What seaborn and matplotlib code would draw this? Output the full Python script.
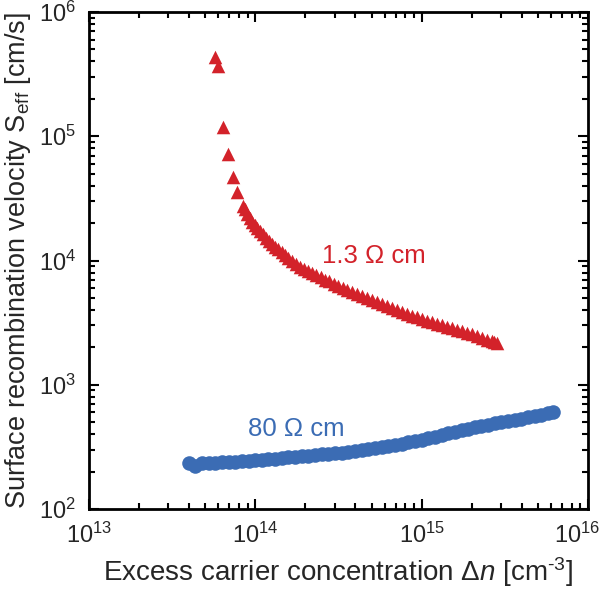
import matplotlib
matplotlib.use("Agg")
import matplotlib.pyplot as plt
import matplotlib.transforms as mtransforms
import seaborn as sns
import pandas as pd
from matplotlib.ticker import LogLocator

# 1.3 Ohm cm sample (red triangles)
red_dn = [5.70e13, 5.94e13, 6.37e13, 6.82e13, 7.31e13, 7.80e13, 8.40e13,
          8.67e13, 8.97e13, 9.29e13, 9.62e13, 9.96e13,
          1.03e14, 1.07e14, 1.11e14, 1.16e14, 1.21e14, 1.26e14, 1.31e14, 1.37e14,
          1.44e14, 1.51e14, 1.58e14, 1.66e14, 1.76e14, 1.86e14, 1.96e14, 2.07e14,
          2.19e14, 2.32e14, 2.47e14, 2.62e14, 2.79e14, 2.97e14, 3.16e14, 3.37e14,
          3.58e14, 3.81e14, 4.09e14, 4.38e14, 4.69e14, 5.03e14, 5.39e14, 5.78e14,
          6.20e14, 6.64e14, 7.11e14, 7.62e14, 8.17e14, 8.76e14, 9.39e14,
          1.006e15, 1.078e15, 1.155e15, 1.238e15, 1.327e15, 1.422e15, 1.523e15,
          1.633e15, 1.750e15, 1.876e15, 2.01e15, 2.155e15, 2.31e15, 2.474e15,
          2.65e15, 2.74e15, 2.84e15]
red_s = [4.32e5, 3.67e5, 1.19e5, 7.2e4, 4.7e4, 3.58e4, 2.76e4,
         2.60e4, 2.39e4, 2.20e4, 2.06e4, 1.93e4,
         1.83e4, 1.73e4, 1.62e4, 1.52e4, 1.44e4, 1.36e4, 1.29e4, 1.23e4,
         1.17e4, 1.11e4, 1.05e4, 9.9e3, 9.41e3, 8.95e3, 8.58e3, 8.23e3,
         7.93e3, 7.64e3, 7.33e3, 7.03e3, 6.78e3, 6.53e3, 6.26e3, 6.01e3,
         5.79e3, 5.58e3, 5.36e3, 5.15e3, 4.96e3, 4.78e3, 4.61e3, 4.44e3,
         4.29e3, 4.15e3, 4.00e3, 3.85e3, 3.73e3, 3.61e3, 3.49e3,
         3.38e3, 3.28e3, 3.18e3, 3.09e3, 3.00e3, 2.92e3, 2.84e3,
         2.76e3, 2.69e3, 2.61e3, 2.54e3, 2.46e3, 2.38e3, 2.30e3,
         2.23e3, 2.19e3, 2.16e3]

# 80 Ohm cm sample (blue circles)
blue_dn = [3.98e13, 4.37e13, 4.79e13, 5.25e13, 5.75e13, 6.31e13, 6.92e13, 7.59e13,
           8.32e13, 9.12e13,
           1.00e14, 1.10e14, 1.20e14, 1.32e14, 1.45e14, 1.58e14, 1.74e14, 1.91e14,
           2.09e14, 2.29e14, 2.51e14, 2.75e14, 3.02e14, 3.31e14, 3.63e14, 3.98e14,
           4.37e14, 4.79e14, 5.25e14, 5.75e14, 6.31e14, 6.92e14, 7.59e14, 8.32e14,
           9.12e14,
           1.00e15, 1.10e15, 1.20e15, 1.32e15, 1.45e15, 1.58e15, 1.74e15, 1.91e15,
           2.09e15, 2.29e15, 2.51e15, 2.75e15, 3.02e15, 3.31e15, 3.63e15, 3.98e15,
           4.37e15, 4.79e15, 5.25e15, 5.75e15, 6.20e15]
blue_s = [233, 222, 233, 234, 235, 237, 238, 240, 242, 244,
          246, 248, 251, 254, 257, 260, 263, 267, 269, 272, 275, 278, 281, 284,
          289, 294, 298, 303, 309, 316, 322, 330, 336, 345, 355,
          362, 372, 383, 394, 406, 419, 431, 443, 455, 466, 478, 489, 501, 513,
          524, 535, 546, 557, 573, 592, 607]

x_ticks = [1e13, 1e14, 1e15, 1e16]
y_ticks = [1e2, 1e3, 1e4, 1e5, 1e6]

red = "#d3222a"
blue = "#3b6cb4"

sns.set_style("ticks")
plt.rcParams["font.family"] = ["Liberation Sans", "DejaVu Sans"]
plt.rcParams["mathtext.fontset"] = "custom"
plt.rcParams["mathtext.rm"] = "Liberation Sans"
plt.rcParams["mathtext.it"] = "Liberation Sans:italic"
plt.rcParams["mathtext.bf"] = "Liberation Sans:bold"

df_red = pd.DataFrame({"dn": red_dn, "S": red_s})
df_blue = pd.DataFrame({"dn": blue_dn, "S": blue_s})

fig = plt.figure(figsize=(6.0, 5.95), dpi=100)
ax = fig.add_axes([0.148, 0.1445, 0.832, 0.8353])

sns.scatterplot(data=df_red, x="dn", y="S", marker="^", s=95, color=red,
                linewidth=0, ax=ax, zorder=3)
sns.scatterplot(data=df_blue, x="dn", y="S", marker="o", s=110, color=blue,
                linewidth=0, ax=ax, zorder=3)

ax.set_xscale("log")
ax.set_yscale("log")
ax.set_xlim(1e13, 1e16)
ax.set_ylim(1e2, 1e6)

ax.set_xticks(x_ticks)
ax.set_yticks(y_ticks)
ax.xaxis.set_minor_locator(LogLocator(base=10, subs=range(2, 10), numticks=20))
ax.yaxis.set_minor_locator(LogLocator(base=10, subs=range(2, 10), numticks=20))

ax.tick_params(which="both", direction="in", top=True, right=True, width=1.5,
               color="black")
ax.tick_params(which="major", length=7, labelsize=17)
ax.tick_params(axis="x", which="major", pad=10)
ax.tick_params(axis="y", which="major", pad=9)
ax.tick_params(which="minor", length=4)
for sp in ax.spines.values():
    sp.set_linewidth(2)
    sp.set_color("black")

ax.set_xlabel("Excess carrier concentration \u0394$n$ [cm$^{\u20103}$]",
              fontsize=20, labelpad=5)
ax.set_ylabel("Surface recombination velocity S$_{\\mathrm{eff}}$ [cm/s]",
              fontsize=19.5, labelpad=4)

ax.text(5.18e14, 1.09e4, "1.3 \u03a9 cm", color=red, fontsize=18.5,
        ha="center", va="center")
ax.text(1.76e14, 441, "80 \u03a9 cm", color=blue, fontsize=18.5,
        ha="center", va="center")

# keep the 10^16 label inside the figure, like the original
fig.canvas.draw()
for tick in ax.xaxis.get_major_ticks():
    if abs(tick.get_loc() - 1e16) < 1e10:
        lab = tick.label1
        lab.set_transform(lab.get_transform() +
                          mtransforms.ScaledTranslation(-0.11, 0, fig.dpi_scale_trans))

fig.savefig("out.png", dpi=100)
